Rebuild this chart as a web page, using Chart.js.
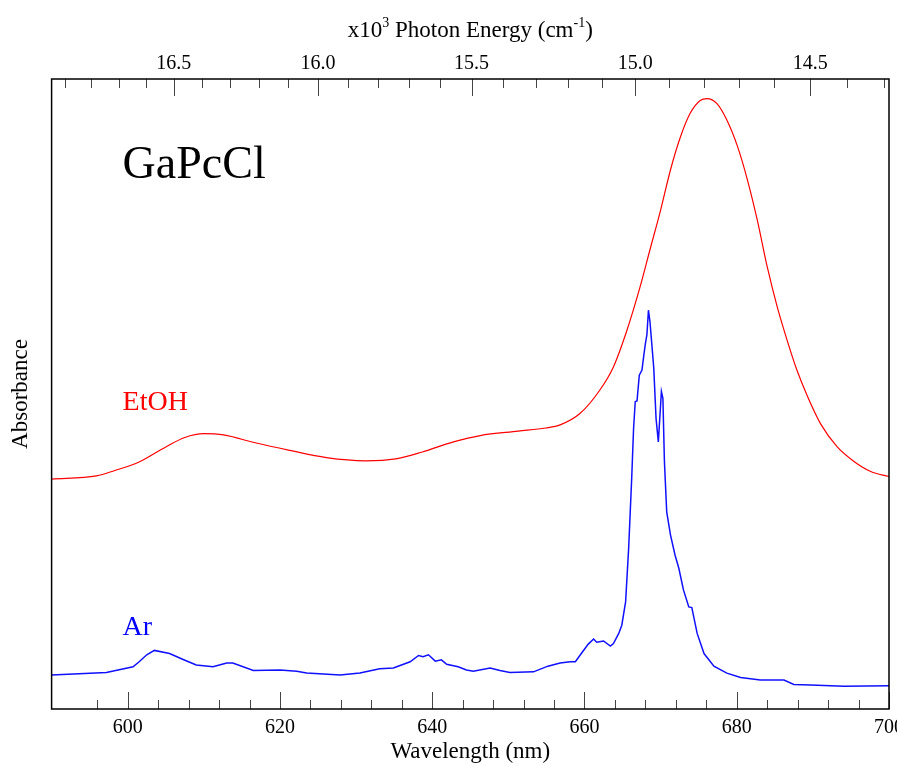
<!DOCTYPE html>
<html>
<head>
<meta charset="utf-8">
<script src="https://cdn.jsdelivr.net/npm/chart.js@4.4.0/dist/chart.umd.min.js"></script>
<style>
  html, body { margin: 0; padding: 0; background: #fff; }
  #wrap { width: 897px; height: 766px; }
</style>
</head>
<body>
<div id="wrap"><canvas id="chart"></canvas></div>
<script>
// GaPcCl absorbance, EtOH solution vs Ar matrix (arbitrary units)
const wavelengthsEtOH = [590.0, 595.9, 598.4, 601.5, 605.0, 607.5, 610.0, 612.6, 616.6, 621.1,
  626.1, 631.2, 635.2, 638.7, 642.8, 646.3, 651.3, 654.9, 656.8, 659.4, 662.0, 663.8, 665.6,
  667.3, 668.6, 670.0, 671.3, 672.6, 673.9, 675.2, 676.1, 677.4, 678.7, 680.1, 681.4, 682.7,
  684.0, 685.3, 686.6, 687.9, 689.3, 691.0, 693.2, 695.4, 697.6, 700.0]
const absEtOH = [0.365, 0.370, 0.379, 0.392, 0.416, 0.431, 0.437, 0.435, 0.423, 0.411,
  0.399, 0.394, 0.397, 0.408, 0.424, 0.434, 0.441, 0.446, 0.451, 0.469, 0.506, 0.543, 0.602,
  0.670, 0.729, 0.792, 0.856, 0.908, 0.946, 0.966, 0.969, 0.961, 0.935, 0.893, 0.840, 0.776,
  0.702, 0.639, 0.586, 0.538, 0.496, 0.453, 0.416, 0.393, 0.377, 0.369]

const wavelengthsAr = [590.0, 597.2, 600.7, 601.5, 602.5, 603.5, 605.5, 607.2, 609.0, 611.2,
  613.0, 613.8, 616.5, 620.0, 622.2, 623.5, 627.9, 630.5, 633.1, 634.9, 637.1, 638.2, 638.8,
  639.5, 640.4, 641.2, 641.9, 643.4, 644.5, 645.4, 647.6, 648.9, 650.2, 653.3, 655.2, 656.8,
  658.1, 658.8, 659.7, 660.5, 661.2, 661.6, 662.5, 663.4, 663.8, 664.5, 664.9, 665.4, 665.8,
  666.2, 666.45, 666.67, 666.9, 667.2, 667.55, 667.8, 668.0, 668.2, 668.4, 668.6, 669.1, 669.4,
  669.7, 670.0, 670.1, 670.3, 670.5, 670.8, 671.3, 671.9, 672.4, 673.0, 673.7, 674.1, 674.8,
  675.7, 677.0, 678.7, 680.5, 683.1, 686.2, 687.5, 689.7, 694.1, 700.0]
const absAr = [0.054, 0.058, 0.067, 0.075, 0.086, 0.093, 0.088, 0.079, 0.070, 0.067,
  0.073, 0.073, 0.061, 0.062, 0.060, 0.057, 0.054, 0.057, 0.064, 0.065, 0.075, 0.085, 0.083,
  0.086, 0.076, 0.078, 0.071, 0.067, 0.062, 0.060, 0.065, 0.061, 0.058, 0.059, 0.068, 0.073,
  0.075, 0.075, 0.090, 0.103, 0.111, 0.106, 0.108, 0.100, 0.104, 0.120, 0.133, 0.170, 0.255,
  0.366, 0.446, 0.488, 0.489, 0.530, 0.538, 0.562, 0.580, 0.594, 0.633, 0.615, 0.541, 0.461,
  0.424, 0.483, 0.504, 0.493, 0.393, 0.313, 0.276, 0.244, 0.223, 0.189, 0.162, 0.161, 0.120,
  0.088, 0.068, 0.057, 0.050, 0.046, 0.046, 0.039, 0.038, 0.036, 0.037]

// tick labels
const wavelengthLabels = [600, 620, 640, 660, 680, 700]
const energyLabels = [16.5, 16.0, 15.5, 15.0, 14.5]   // x10^3 cm^-1

const serif = '"Liberation Serif", "Times New Roman", serif'

const toPoints = (xs, ys) => xs.map((x, i) => ({ x, y: ys[i] }))

// box, inward ticks, secondary energy axis and in-plot labels
const decorations = {
  id: 'decorations',
  afterDatasetsDraw(chart) {
    const { ctx, chartArea: a, scales: { x } } = chart
    ctx.save()

    // wavelength ticks (minor every 4 nm, major every 20 nm)
    ctx.strokeStyle = '#444'
    ctx.lineWidth = 1
    x.ticks.forEach(t => {
      if (t.value % 4 !== 0) return
      const px = Math.round(x.getPixelForValue(t.value)) + 0.5
      const len = wavelengthLabels.includes(t.value) ? 17 : 9
      ctx.beginPath()
      ctx.moveTo(px, a.bottom)
      ctx.lineTo(px, a.bottom - len)
      ctx.stroke()
    })

    // photon energy ticks, every 0.1 x10^3 cm^-1
    for (let k = 140; k <= 170; k++) {
      const nm = 1e4 / (k / 10)
      if (nm < x.min || nm > x.max) continue
      const px = Math.round(x.getPixelForValue(nm)) + 0.5
      const len = k % 5 === 0 ? 17 : 9
      ctx.beginPath()
      ctx.moveTo(px, a.top)
      ctx.lineTo(px, a.top + len)
      ctx.stroke()
    }

    ctx.fillStyle = '#000'
    ctx.font = '20px ' + serif
    ctx.textAlign = 'center'
    ctx.textBaseline = 'alphabetic'
    energyLabels.forEach(e => {
      ctx.fillText(e.toFixed(1), x.getPixelForValue(1e4 / e), a.top - 10)
    })

    // top axis title with superscripts
    const parts = [
      { t: 'x10', sup: false }, { t: '3', sup: true },
      { t: ' Photon Energy (cm', sup: false }, { t: '-1', sup: true }, { t: ')', sup: false }
    ]
    const big = '23px ' + serif, small = '14px ' + serif
    let total = 0
    parts.forEach(p => { ctx.font = p.sup ? small : big; p.w = ctx.measureText(p.t).width; total += p.w })
    let cx = (a.left + a.right) / 2 - total / 2
    ctx.textAlign = 'left'
    parts.forEach(p => {
      ctx.font = p.sup ? small : big
      ctx.fillText(p.t, cx, p.sup ? 27 : 37)
      cx += p.w
    })

    // frame
    ctx.strokeStyle = '#000'
    ctx.lineWidth = 1.5
    ctx.strokeRect(a.left, a.top, a.right - a.left, a.bottom - a.top)

    // labels inside the plot
    ctx.textAlign = 'left'
    ctx.fillStyle = '#000'
    ctx.font = '46px ' + serif
    ctx.fillText('GaPcCl', a.left + 71, a.top + 99)
    ctx.fillStyle = '#ff0000'
    ctx.font = '28px ' + serif
    ctx.fillText('EtOH', a.left + 71, a.top + 331)
    ctx.fillStyle = '#0000ff'
    ctx.fillText('Ar', a.left + 71, a.top + 556)

    ctx.restore()
  }
}

new Chart(document.getElementById('chart'), {
  type: 'line',
  data: {
    datasets: [
      {
        label: 'EtOH',
        data: toPoints(wavelengthsEtOH, absEtOH),
        borderColor: '#ff0000',
        borderWidth: 1.2,
        pointRadius: 0,
        tension: 0.4,
        cubicInterpolationMode: 'monotone',
        fill: false
      },
      {
        label: 'Ar',
        data: toPoints(wavelengthsAr, absAr),
        borderColor: '#1010ff',
        borderWidth: 1.5,
        pointRadius: 0,
        tension: 0,
        fill: false
      }
    ]
  },
  options: {
    responsive: true,
    maintainAspectRatio: false,
    animation: false,
    layout: { padding: { left: 0, right: 8, top: 79, bottom: 0 } },
    plugins: {
      legend: { display: false },
      tooltip: { enabled: false }
    },
    scales: {
      x: {
        type: 'linear',
        min: 590,
        max: 700,
        grid: { display: false, drawTicks: false },
        border: { display: false },
        ticks: {
          stepSize: 4,
          autoSkip: false,
          maxRotation: 0,
          padding: 7,
          color: '#000',
          font: { family: serif, size: 20 },
          callback: v => wavelengthLabels.includes(v) ? String(v) : ''
        },
        title: {
          display: true,
          text: 'Wavelength (nm)',
          color: '#000',
          font: { family: serif, size: 23 },
          padding: { top: 1, bottom: 0 }
        },
        afterFit(scale) {
          scale.paddingLeft = 0
          scale.paddingRight = 0
          scale.height = 57
        }
      },
      y: {
        min: 0,
        max: 1,
        grid: { display: false, drawTicks: false },
        border: { display: false },
        ticks: { display: false },
        title: {
          display: true,
          text: 'Absorbance',
          color: '#000',
          font: { family: serif, size: 23 },
          padding: { top: 7, bottom: 17 }
        }
      }
    }
  },
  plugins: [decorations]
})
</script>
</body>
</html>
